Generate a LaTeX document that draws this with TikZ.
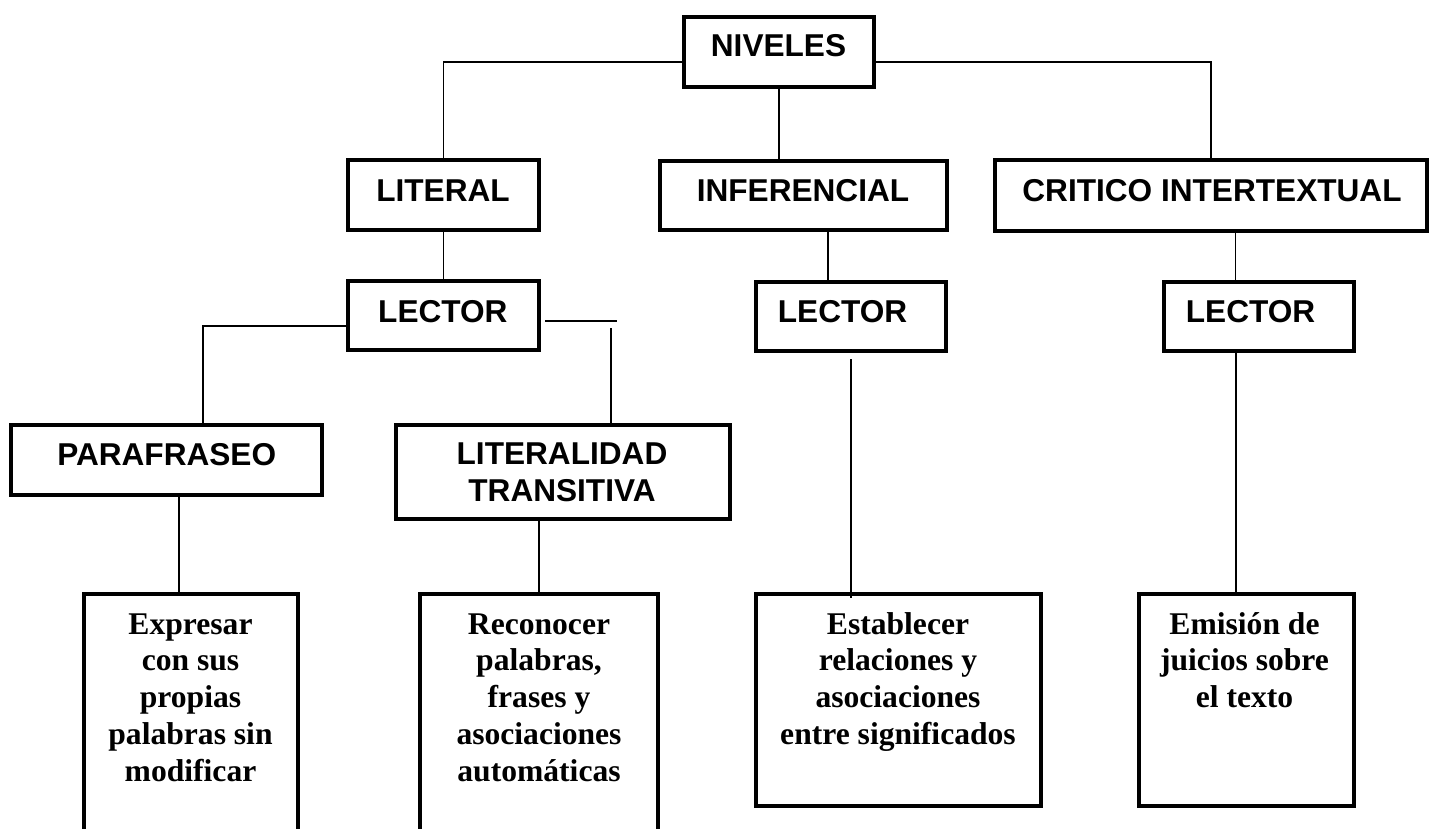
\documentclass[tikz,border=0pt]{standalone}
\usepackage{fontspec}
\setmainfont{Liberation Serif}
\setsansfont{Liberation Sans}
\usetikzlibrary{calc}
\begin{document}
\begin{tikzpicture}[x=1pt,y=-1pt,
  bx/.style 2 args={draw, line width=4pt, inner sep=0pt, minimum width=#1, minimum height=#2},
  conn/.style={draw, line width=1.8pt},
  tsans/.style={font=\sffamily\bfseries\fontsize{31.6}{36.8}\selectfont, inner sep=0pt, align=center},
  tser/.style={font=\rmfamily\bfseries\fontsize{31.6}{36.8}\selectfont, inner sep=0pt, align=center}]
\path[use as bounding box] (0,0) rectangle (1435,828);
\fill[white] (0,0) rectangle (1435,828);
\clip (0,0) rectangle (1435,828);
% boxes
\node[bx={190pt}{70pt}] (niv) at (779,52) {};
\node[bx={191pt}{70pt}] (lit) at (443.5,195) {};
\node[bx={287pt}{69pt}] (inf) at (803.5,195.5) {};
\node[bx={432pt}{71pt}] (crit) at (1211,195.5) {};
\node[bx={191pt}{69pt}] (lec1) at (443.5,315.5) {};
\node[bx={190pt}{69pt}] (lec2) at (851,316.5) {};
\node[bx={190pt}{69pt}] (lec3) at (1259,316.5) {};
\node[bx={311pt}{70pt}] (para) at (166.5,460) {};
\node[bx={334pt}{94pt}] (lit2) at (563,472) {};
\node[bx={214pt}{244pt}] (expr) at (191,716) {};
\node[bx={238pt}{244pt}] (rec) at (539,716) {};
\node[bx={285pt}{212pt}] (est) at (898.5,700) {};
\node[bx={215pt}{212pt}] (emi) at (1246.5,700) {};
% texts (multi-line nodes: base = baseline of the last line)
\node[tsans, anchor=base] (tniv) at (778.5,56.7) {NIVELES};
\node[tsans, anchor=base] (tlit) at (443,201.7) {LITERAL};
\node[tsans, anchor=base] (tinf) at (803,201.7) {INFERENCIAL};
\node[tsans, anchor=base] (tcrit) at (1212,201.5) {CRITICO INTERTEXTUAL};
\node[tsans, anchor=base west] (tlec1) at (378,322) {LECTOR};
\node[tsans, anchor=base west] (tlec2) at (777.7,322) {LECTOR};
\node[tsans, anchor=base west] (tlec3) at (1185.7,322) {LECTOR};
\node[tsans, anchor=base] (tpara) at (166.7,465.7) {PARAFRASEO};
\node[tsans, anchor=base] (tlit2) at (562,501.7) {LITERALIDAD\\TRANSITIVA};
\node[tser, anchor=base] (texpr) at (190.5,781.2) {Expresar\\con sus\\propias\\palabras sin\\modificar};
\node[tser, anchor=base] (trec) at (539,781.2) {Reconocer\\palabras,\\frases y\\asociaciones\\automáticas};
\node[tser, anchor=base] (test) at (898,744.4) {Establecer\\relaciones y\\asociaciones\\entre significados};
\node[tser, anchor=base] (temi) at (1244.5,707.6) {Emisión de\\juicios sobre\\el texto};
% connectors
\draw[conn] ([yshift=-10pt]niv.west) -| (lit.north);
\draw[conn] ([yshift=-10pt]niv.east) -| (crit.north);
\draw[conn] (niv.south) -- (niv.south |- inf.north);
\draw[conn] (lit.south) -- (lec1.north);
\draw[conn] ([xshift=24.5pt]inf.south) -- ([xshift=24.5pt]inf.south |- lec2.north);
\draw[conn] ([xshift=24.5pt]crit.south) -- ([xshift=24.5pt]crit.south |- lec3.north);
\draw[conn] ([yshift=-10.5pt]lec1.west) -| ([xshift=36.5pt]para.north);
\coordinate (lec1r) at ([xshift=76pt,yshift=-5.5pt]lec1.east);
\draw[conn] ([xshift=4pt,yshift=-5.5pt]lec1.east) -- (lec1r);
\draw[conn] ([xshift=48pt]lit2.north) -- ([xshift=48pt,yshift=-6.5pt]lit2.north |- lec1r);
\draw[conn] ([xshift=12.5pt]para.south) -- ([xshift=12.5pt]para.south |- expr.north);
\draw[conn] (rec.north |- lit2.south) -- (rec.north);
\draw[conn] ([yshift=-6pt]lec2.south) -- ([yshift=-6pt]lec2.south |- est.north);
\draw[conn] ([xshift=-23pt]lec3.south) -- ([xshift=-23pt]lec3.south |- emi.north);
\end{tikzpicture}
\end{document}
